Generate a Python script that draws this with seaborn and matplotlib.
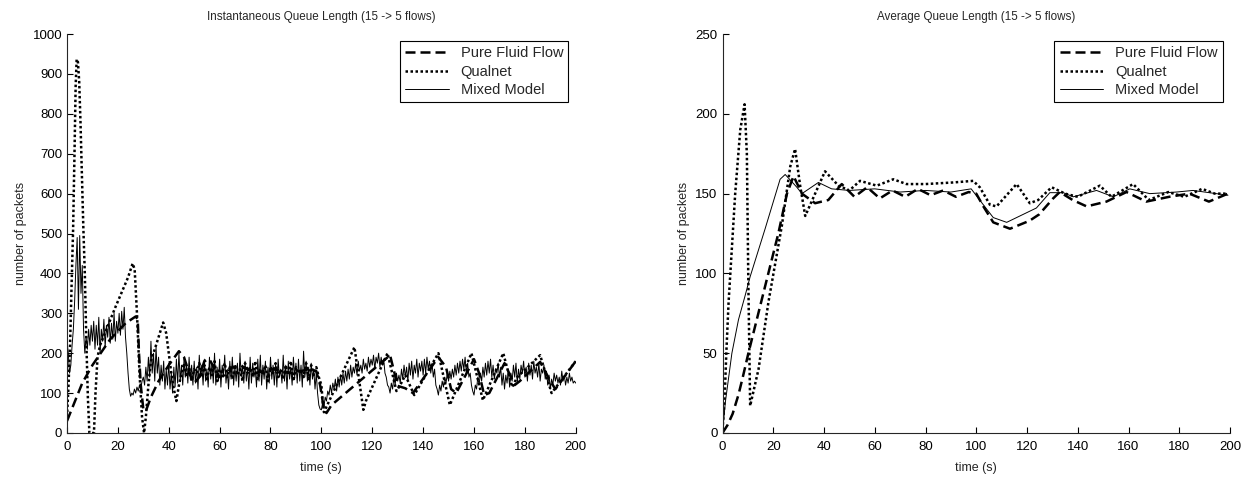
import numpy as np
import matplotlib
matplotlib.use("Agg")
import matplotlib.pyplot as plt
import seaborn as sns

# ---- Instantaneous queue length (left panel) ----
# Pure Fluid Flow (dashed)
inst_fluid_t = [0, 6, 10, 17, 23, 27, 27.8, 28.3, 29, 30, 31, 33, 36, 40, 44, 46, 48, 50, 52, 54,
                56, 58, 60, 62, 65, 68, 71, 74, 77, 80, 83, 86, 89, 92, 95, 98, 99.5, 101, 102, 104,
                127, 130, 133, 136, 146, 149, 151, 153, 160, 162, 164, 166, 172, 176, 178, 186, 190, 192, 200]
inst_fluid_q = [30, 125, 170, 235, 275, 292, 285, 200, 120, 60, 55, 90, 130, 170, 205, 190, 150, 125, 140, 180,
                185, 160, 140, 145, 165, 170, 160, 150, 155, 160, 158, 152, 150, 155, 160, 155, 120, 60, 50, 70,
                195, 118, 112, 100, 190, 165, 110, 100, 185, 150, 95, 100, 175, 120, 130, 178, 130, 110, 180]

# Qualnet (dotted)
inst_qual_t = [0, 0.6, 1.2, 1.8, 2.4, 3, 3.4, 3.8, 4.3, 4.8, 5.3, 5.8, 6.4, 7, 7.6, 8.2, 8.8, 10.6, 11.2, 12,
               13, 19, 24, 25.8, 26.6, 27.5, 28.5, 29.5, 30.3, 31, 32, 33, 35, 37.8, 39, 40, 41, 42, 43, 44,
               45, 46, 47, 48, 49, 50, 51, 52, 53, 54, 55, 56, 57, 58, 59, 60, 61, 62, 63, 64,
               65, 66, 67, 68, 69, 70, 71, 72, 73, 74, 75, 76, 77, 78, 79, 80, 81, 82, 83, 84,
               85, 86, 87, 88, 89, 90, 91, 92, 93, 94, 95, 96, 97, 98, 99, 100, 100.5, 101, 113, 116.5,
               117.5, 126, 129.5, 131, 133, 136.5, 146, 150.5, 159, 163.5, 171.5, 175, 177, 186, 190.5, 200]
inst_qual_q = [40, 120, 220, 370, 510, 720, 870, 937, 930, 880, 780, 660, 520, 400, 230, 90, 0, 0, 100, 190,
               220, 315, 390, 425, 410, 300, 150, 40, 0, 40, 120, 180, 220, 277, 250, 200, 150, 110, 80, 120,
               150, 175, 140, 165, 130, 160, 150, 175, 140, 170, 135, 165, 145, 180, 130, 160, 150, 175, 140, 165,
               135, 170, 145, 160, 130, 175, 150, 165, 140, 180, 135, 160, 145, 170, 130, 165, 150, 175, 140, 160,
               135, 170, 145, 180, 130, 165, 150, 160, 140, 175, 135, 170, 145, 165, 140, 120, 80, 52, 215, 58,
               80, 200, 105, 120, 145, 95, 200, 70, 200, 82, 200, 115, 140, 195, 100, 180]

# Mixed Model (solid), one sample every 0.5 s
inst_mixed_q = [
    230, 200, 150, 170, 220, 260, 330, 420, 490, 310, 495, 350, 420, 260, 200, 240, 210, 260, 220, 270,
    230, 280, 210, 270, 220, 290, 200, 260, 230, 285, 215, 270, 240, 290, 225, 275, 235, 300, 230, 280,
    250, 300, 245, 305, 260, 315, 240, 200, 150, 110, 92, 100, 95, 110, 100, 115, 105, 120, 110, 130,
    140, 120, 165, 130, 190, 140, 230, 150, 200, 130, 215, 150, 190, 120, 170, 130, 180, 110, 160, 120,
    175, 110, 150, 100, 165, 115, 185, 125, 200, 130, 170, 120, 185, 140, 175, 125, 190, 135, 170, 120,
    180, 125, 165, 110, 195, 140, 170, 120, 185, 130, 160, 115, 190, 135, 175, 125, 200, 120, 165, 130,
    185, 115, 170, 140, 195, 125, 160, 110, 180, 135, 190, 120, 165, 130, 175, 115, 200, 140, 170, 125,
    180, 130, 165, 110, 190, 125, 175, 140, 160, 115, 185, 130, 195, 120, 170, 135, 180, 110, 165, 125,
    190, 135, 170, 120, 175, 115, 185, 140, 160, 125, 195, 130, 170, 110, 180, 135, 165, 120, 190, 140,
    175, 125, 185, 130, 170, 115, 205, 140, 180, 130, 165, 120, 175, 135, 160, 110, 150, 100, 70, 60,
    58, 75, 65, 90, 80, 105, 95, 120, 100, 125, 110, 135, 105, 140, 115, 145, 120, 150, 125, 155,
    130, 160, 135, 170, 140, 165, 150, 175, 145, 180, 155, 170, 150, 185, 160, 175, 155, 190, 165, 185,
    170, 195, 160, 190, 175, 200, 165, 190, 170, 185, 150, 140, 120, 115, 100, 125, 110, 140, 120, 150,
    130, 145, 125, 160, 135, 170, 140, 165, 130, 175, 145, 180, 135, 170, 150, 185, 140, 175, 155, 180,
    145, 185, 150, 190, 160, 180, 150, 175, 140, 160, 120, 110, 95, 120, 105, 130, 115, 140, 125, 150,
    130, 155, 135, 160, 140, 170, 145, 175, 150, 180, 155, 185, 160, 190, 150, 175, 140, 150, 120, 105,
    95, 120, 110, 140, 120, 150, 130, 165, 140, 175, 145, 180, 150, 185, 140, 170, 135, 160, 150, 175,
    140, 165, 120, 150, 110, 145, 125, 160, 115, 150, 130, 170, 140, 175, 125, 160, 135, 170, 150, 180,
    140, 165, 130, 175, 145, 170, 135, 180, 150, 165, 140, 175, 130, 160, 150, 170, 135, 155, 120, 145,
    110, 135, 120, 150, 130, 145, 125, 140, 120, 155, 130, 145, 120, 140, 125, 150, 130, 140, 125, 130,
    125]
inst_mixed_t = np.arange(len(inst_mixed_q)) * 0.5

# ---- Average queue length (right panel) ----
avg_fluid_t = [0, 2, 4, 6.3, 8, 10.2, 16.8, 22, 25.4, 28, 31.3, 36.5, 41.7, 47, 52, 57, 62, 67, 72, 77,
               82, 87, 92, 97, 100, 102.8, 106.7, 113.3, 121, 124.8, 130.3, 132.9, 138, 143.5, 151.3, 159.2,
               167, 176, 184, 191.7, 199.2]
avg_fluid_q = [0, 5, 12, 24, 35, 50, 92, 125, 150, 161, 150, 144, 146, 156, 148, 154, 147, 152, 148, 153,
               149, 152, 148, 151, 150, 142, 132, 128, 133, 137, 147, 151, 146, 142, 145, 151,
               145, 148, 150, 145, 150]

avg_qual_t = [0, 0.8, 1.5, 2.4, 5, 7, 8.7, 9.6, 10.2, 10.9, 14.2, 18.1, 23.4, 26.7, 28.6, 30.6, 32.6, 36.5, 40.4, 45.7,
              50, 54.2, 60.8, 67.3, 72.5, 80, 90.9, 98.8, 101.4, 105.4, 108, 115.9, 121.1, 124.4, 129.7, 135,
              140, 148.7, 153.3, 161.8, 168, 175.7, 182, 189, 194, 199.2]
avg_qual_q = [2, 20, 50, 82, 150, 190, 206, 175, 92, 17, 40, 82, 130, 167, 178, 155, 136, 150, 164, 155,
              152, 158, 155, 159, 156, 156, 157, 158, 154, 143, 142, 156, 144, 146, 154, 150,
              148, 155, 148, 156, 146, 151, 148, 153, 150, 150]

avg_mixed_t = [0, 1.1, 3.7, 6.3, 8.9, 10.9, 16.8, 22.7, 24.7, 29.3, 31.3, 37.8, 43, 50, 60, 70, 80, 90, 98, 102.8,
               106.7, 112, 121.1, 123.7, 129, 134.3, 138.2, 147.4, 154, 160.5, 168.4, 178.9, 185.4, 199.2]
avg_mixed_q = [0, 19, 50, 71, 86, 98, 128, 159, 162, 154, 150, 157, 153, 152, 153, 151, 152, 151, 153, 143,
               135, 132, 139, 141, 150.6, 150.6, 148, 152, 148, 153, 150, 151, 152, 149]

series_names = ["Pure Fluid Flow", "Qualnet", "Mixed Model"]

sns.set_style("ticks")
plt.rcParams["font.family"] = ["Liberation Sans", "DejaVu Sans"]
plt.rcParams["xtick.direction"] = "in"
plt.rcParams["ytick.direction"] = "in"

fig = plt.figure(figsize=(12.5, 4.8), dpi=100)
ax1 = fig.add_axes([0.0536, 0.098, 0.407, 0.831])
ax2 = fig.add_axes([0.578, 0.098, 0.406, 0.831])

styles = [dict(linestyle=(0, (4, 2)), linewidth=1.8),
          dict(linestyle=(0, (1, 1)), linewidth=1.8),
          dict(linestyle="-", linewidth=0.7)]


def draw_panel(ax, data, title, ymax, ystep):
    for (t, q), name, st in zip(data, series_names, styles):
        sns.lineplot(x=t, y=q, ax=ax, color="black", label=name, estimator=None, sort=False, **st)
    ax.set_xlim(0, 200)
    ax.set_ylim(0, ymax)
    ax.set_xticks(np.arange(0, 201, 20))
    ax.set_yticks(np.arange(0, ymax + 1, ystep))
    ax.tick_params(labelsize=9.5, length=4, width=0.8, colors="black")
    ax.tick_params(axis="x", pad=6)
    sns.despine(ax=ax)
    ax.set_title(title, fontsize=8.4, pad=10)
    ax.set_xlabel("time (s)", fontsize=9, labelpad=6)
    ax.set_ylabel("number of packets", fontsize=9)
    leg = ax.legend(loc="upper right", fontsize=10.5, fancybox=False, framealpha=1,
                    edgecolor="black", handlelength=3, borderpad=0.35, labelspacing=0.3,
                    borderaxespad=0.5)
    leg.get_frame().set_linewidth(0.8)


draw_panel(ax1, [(inst_fluid_t, inst_fluid_q), (inst_qual_t, inst_qual_q), (inst_mixed_t, inst_mixed_q)],
           "Instantaneous Queue Length (15 -> 5 flows)", 1000, 100)
draw_panel(ax2, [(avg_fluid_t, avg_fluid_q), (avg_qual_t, avg_qual_q), (avg_mixed_t, avg_mixed_q)],
           "Average Queue Length (15 -> 5 flows)", 250, 50)

fig.savefig("out.png", dpi=100)
